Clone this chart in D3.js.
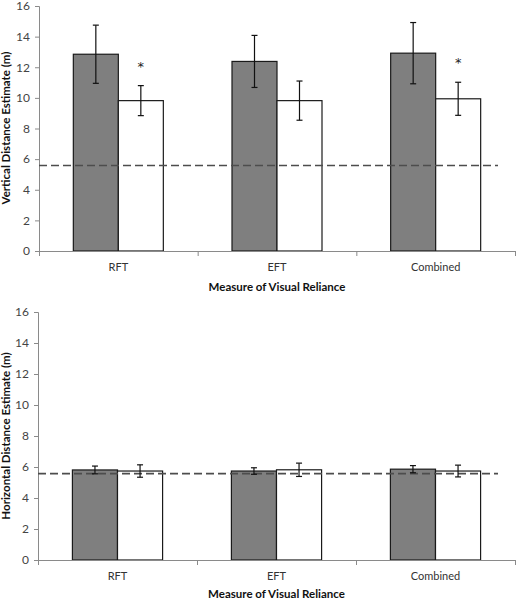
<!DOCTYPE html>
<html>
<head>
<meta charset="utf-8">
<script src="https://cdn.jsdelivr.net/npm/d3@7"></script>
<style>
  body { margin: 0; background: #fff; }
  svg { display: block; }
  text { font-family: Lato, "Open Sans", sans-serif; }
</style>
</head>
<body>
<svg id="chart" width="516" height="600"></svg>
<script>
// ---- data ----
const categories = ["RFT", "EFT", "Combined"];
const seriesNames = ["Group A", "Group B"];
const yTicks = [0, 2, 4, 6, 8, 10, 12, 14, 16];

// Vertical distance estimates (m)
const verticalMeansA = [12.85, 12.38, 12.92];
const verticalErrA   = [1.90, 1.70, 2.00];
const verticalMeansB = [9.82, 9.82, 9.94];
const verticalErrB   = [0.98, 1.28, 1.08];
const verticalSigB   = [true, false, true];
const verticalActual = 5.58;

// Horizontal distance estimates (m)
const horizontalMeansA = [5.81, 5.74, 5.86];
const horizontalErrA   = [0.25, 0.21, 0.23];
const horizontalMeansB = [5.74, 5.82, 5.74];
const horizontalErrB   = [0.40, 0.43, 0.38];
const horizontalActual = 5.57;

const xTitle = "Measure of Visual Reliance";

// ---- drawing ----
const svg = d3.select("#chart");

function panel(cfg) {
  const g = svg.append("g");
  const x0 = d3.scaleBand().domain(categories).range([cfg.left, cfg.right]).paddingInner(0).paddingOuter(0);
  const x1 = d3.scaleBand().domain(seriesNames).range([0, x0.bandwidth()]).paddingInner(0).paddingOuter(0.763);
  const y = d3.scaleLinear().domain([0, 16]).range([cfg.bottom, cfg.top]);

  const rows = [];
  categories.forEach((c, i) => {
    rows.push({cat: c, s: seriesNames[0], v: cfg.meansA[i], e: cfg.errA[i], sig: false});
    rows.push({cat: c, s: seriesNames[1], v: cfg.meansB[i], e: cfg.errB[i], sig: cfg.sigB ? cfg.sigB[i] : false});
  });

  // y axis
  const yAxis = d3.axisLeft(y).tickValues(yTicks).tickSize(4).tickPadding(5);
  const ya = g.append("g").attr("transform", `translate(${cfg.left},0)`).call(yAxis);
  ya.select(".domain").attr("stroke", "#8a8a8a");
  ya.selectAll(".tick line").attr("stroke", "#8a8a8a");
  ya.selectAll(".tick text").attr("fill", "#444").style("font-size", "12px").style("font-family", "Lato, sans-serif");

  // bars
  g.selectAll("rect.bar").data(rows).enter().append("rect")
    .attr("x", d => x0(d.cat) + x1(d.s))
    .attr("y", d => y(d.v))
    .attr("width", x1.bandwidth())
    .attr("height", d => y(0) - y(d.v))
    .attr("fill", d => d.s === seriesNames[0] ? "#7f7f7f" : "#ffffff")
    .attr("stroke", "#1a1a1a")
    .attr("stroke-width", 1.2);

  // x axis (baseline with boundary ticks)
  const xl = d3.scaleLinear().domain([0, categories.length]).range([cfg.left, cfg.right]);
  const xa = g.append("g").attr("transform", `translate(0,${y(0)})`)
    .call(d3.axisBottom(xl).tickValues(d3.range(categories.length + 1)).tickSize(5).tickSizeOuter(0).tickFormat(""));
  xa.select(".domain").attr("stroke", "#8a8a8a");
  xa.selectAll(".tick line").attr("stroke", "#8a8a8a");

  // category labels
  g.selectAll("text.cat").data(categories).enter().append("text")
    .attr("x", d => x0(d) + x0.bandwidth() / 2)
    .attr("y", y(0) + 20)
    .attr("text-anchor", "middle")
    .attr("fill", "#333")
    .style("font-size", "11px")
    .text(d => d);

  // reference (actual distance) dashed line
  g.append("line")
    .attr("x1", cfg.left).attr("x2", cfg.dashEnd)
    .attr("y1", y(cfg.actual)).attr("y2", y(cfg.actual))
    .attr("stroke", "#4d4d4d").attr("stroke-width", 1.6)
    .attr("stroke-dasharray", "8,4");

  // error bars
  const eb = g.selectAll("g.err").data(rows).enter().append("g");
  const cx = d => x0(d.cat) + x1(d.s) + x1.bandwidth() / 2;
  eb.append("line").attr("x1", cx).attr("x2", cx)
    .attr("y1", d => y(d.v + d.e)).attr("y2", d => y(d.v - d.e))
    .attr("stroke", "#111").attr("stroke-width", 1.2);
  eb.append("line").attr("x1", d => cx(d) - 3).attr("x2", d => cx(d) + 3)
    .attr("y1", d => y(d.v + d.e)).attr("y2", d => y(d.v + d.e))
    .attr("stroke", "#111").attr("stroke-width", 1.2);
  eb.append("line").attr("x1", d => cx(d) - 3).attr("x2", d => cx(d) + 3)
    .attr("y1", d => y(d.v - d.e)).attr("y2", d => y(d.v - d.e))
    .attr("stroke", "#111").attr("stroke-width", 1.2);

  // significance asterisks
  g.selectAll("text.sig").data(rows.filter(d => d.sig)).enter().append("text")
    .attr("x", cx)
    .attr("y", d => y(d.v + d.e) - 15)
    .attr("text-anchor", "middle")
    .attr("fill", "#222")
    .style("font-family", "'DejaVu Sans', sans-serif")
    .style("font-size", "13px")
    .text("*");

  // axis titles
  g.append("text")
    .attr("transform", `translate(${cfg.ylabX},${cfg.ylabY}) rotate(-90)`)
    .attr("text-anchor", "middle")
    .attr("fill", "#111")
    .style("font-size", "11.5px").style("font-weight", "bold")
    .text(cfg.yLabel);

  g.append("text")
    .attr("x", (cfg.left + cfg.right) / 2)
    .attr("y", cfg.xTitleY)
    .attr("text-anchor", "middle")
    .attr("fill", "#111")
    .style("font-size", "11.5px").style("font-weight", "bold")
    .text(xTitle);
}

panel({
  left: 39, right: 515, top: 6, bottom: 251, dashEnd: 498,
  meansA: verticalMeansA, errA: verticalErrA,
  meansB: verticalMeansB, errB: verticalErrB,
  sigB: verticalSigB,
  actual: verticalActual,
  yLabel: "Vertical Distance Estimate (m)", ylabX: 10, ylabY: 128,
  xTitleY: 291
});

panel({
  left: 38, right: 515, top: 312, bottom: 560, dashEnd: 498,
  meansA: horizontalMeansA, errA: horizontalErrA,
  meansB: horizontalMeansB, errB: horizontalErrB,
  sigB: null,
  actual: horizontalActual,
  yLabel: "Horizontal Distance Estimate (m)", ylabX: 10, ylabY: 436,
  xTitleY: 598
});
</script>
</body>
</html>
